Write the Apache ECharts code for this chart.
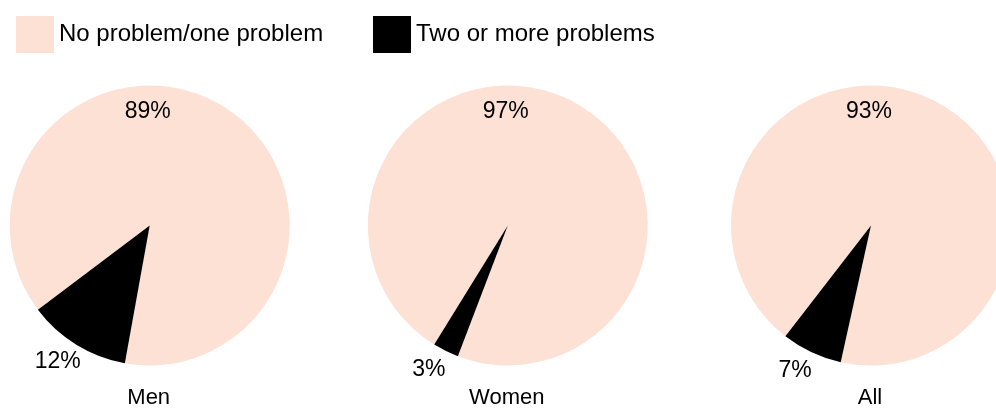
<!DOCTYPE html>
<html>
<head>
<meta charset="utf-8">
<script src="https://cdn.jsdelivr.net/npm/echarts@6/dist/echarts.min.js"></script>
<style>
  html, body { margin: 0; padding: 0; background: #fff; }
  #chart { width: 996px; height: 408px; }
</style>
</head>
<body>
<div id="chart"></div>
<script>
// Share of respondents by number of problems reported
const groups = ['Men', 'Women', 'All'];
const fewProblems = [89, 97, 93];   // No problem/one problem (%)
const manyProblems = [12, 3, 7];    // Two or more problems (%)
const seriesNames = ['No problem/one problem', 'Two or more problems'];

// Drawing layout for the three pies
const pieCenters = [[149.7, 225.5], [507.8, 225.5], [871, 225.5]];
const pieRadius = 140;
const startAngles = [217, 238.3, 232.3];
const colors = ['#fde1d5', '#000000'];
const fontFamily = '"Liberation Sans", Arial, Helvetica, sans-serif';

const chart = echarts.init(document.getElementById('chart'), null, { renderer: 'canvas' });

function labelPos(i, dataIndex) {
  const [cx, cy] = pieCenters[i];
  if (dataIndex === 0) {
    return { x: cx - 2, y: cy - 114 };
  }
  const total = fewProblems[i] + manyProblems[i];
  const sweep = 360 * manyProblems[i] / total;
  const mid = (startAngles[i] + sweep / 2 - 2.5) * Math.PI / 180;
  const d = pieRadius + 24;
  return { x: cx + d * Math.cos(mid), y: cy - d * Math.sin(mid) };
}

const series = groups.map((g, i) => ({
  type: 'pie',
  name: g,
  center: pieCenters[i],
  radius: pieRadius,
  startAngle: startAngles[i],
  clockwise: true,
  avoidLabelOverlap: false,
  silent: true,
  itemStyle: { borderWidth: 0 },
  emphasis: { disabled: true, scale: false },
  label: {
    show: true,
    position: 'inside',
    formatter: '{c}%',
    color: '#000',
    fontSize: 23,
    fontFamily: fontFamily
  },
  labelLine: { show: false },
  labelLayout: function (params) {
    const p = labelPos(i, params.dataIndex);
    return { x: p.x, y: p.y, align: 'center', verticalAlign: 'middle' };
  },
  data: [
    { name: seriesNames[0], value: fewProblems[i], itemStyle: { color: colors[0] } },
    { name: seriesNames[1], value: manyProblems[i], itemStyle: { color: colors[1] } }
  ]
}));

const legendBase = {
  top: 16,
  padding: 0,
  orient: 'horizontal',
  icon: 'rect',
  itemWidth: 38,
  itemHeight: 37,
  selectedMode: false,
  textStyle: { fontSize: 24, color: '#000', fontFamily: fontFamily }
};

chart.setOption({
  animation: false,
  backgroundColor: '#ffffff',
  color: colors,
  legend: [
    Object.assign({}, legendBase, { left: 16, data: [seriesNames[0]] }),
    Object.assign({}, legendBase, { left: 373, data: [seriesNames[1]] })
  ],
  graphic: groups.map((g, i) => ({
    type: 'text',
    x: pieCenters[i][0] - 1,
    y: 398,
    silent: true,
    style: {
      text: g,
      fill: '#000',
      font: '22px ' + fontFamily,
      textAlign: 'center',
      textVerticalAlign: 'middle'
    }
  })),
  series: series
});
</script>
</body>
</html>
